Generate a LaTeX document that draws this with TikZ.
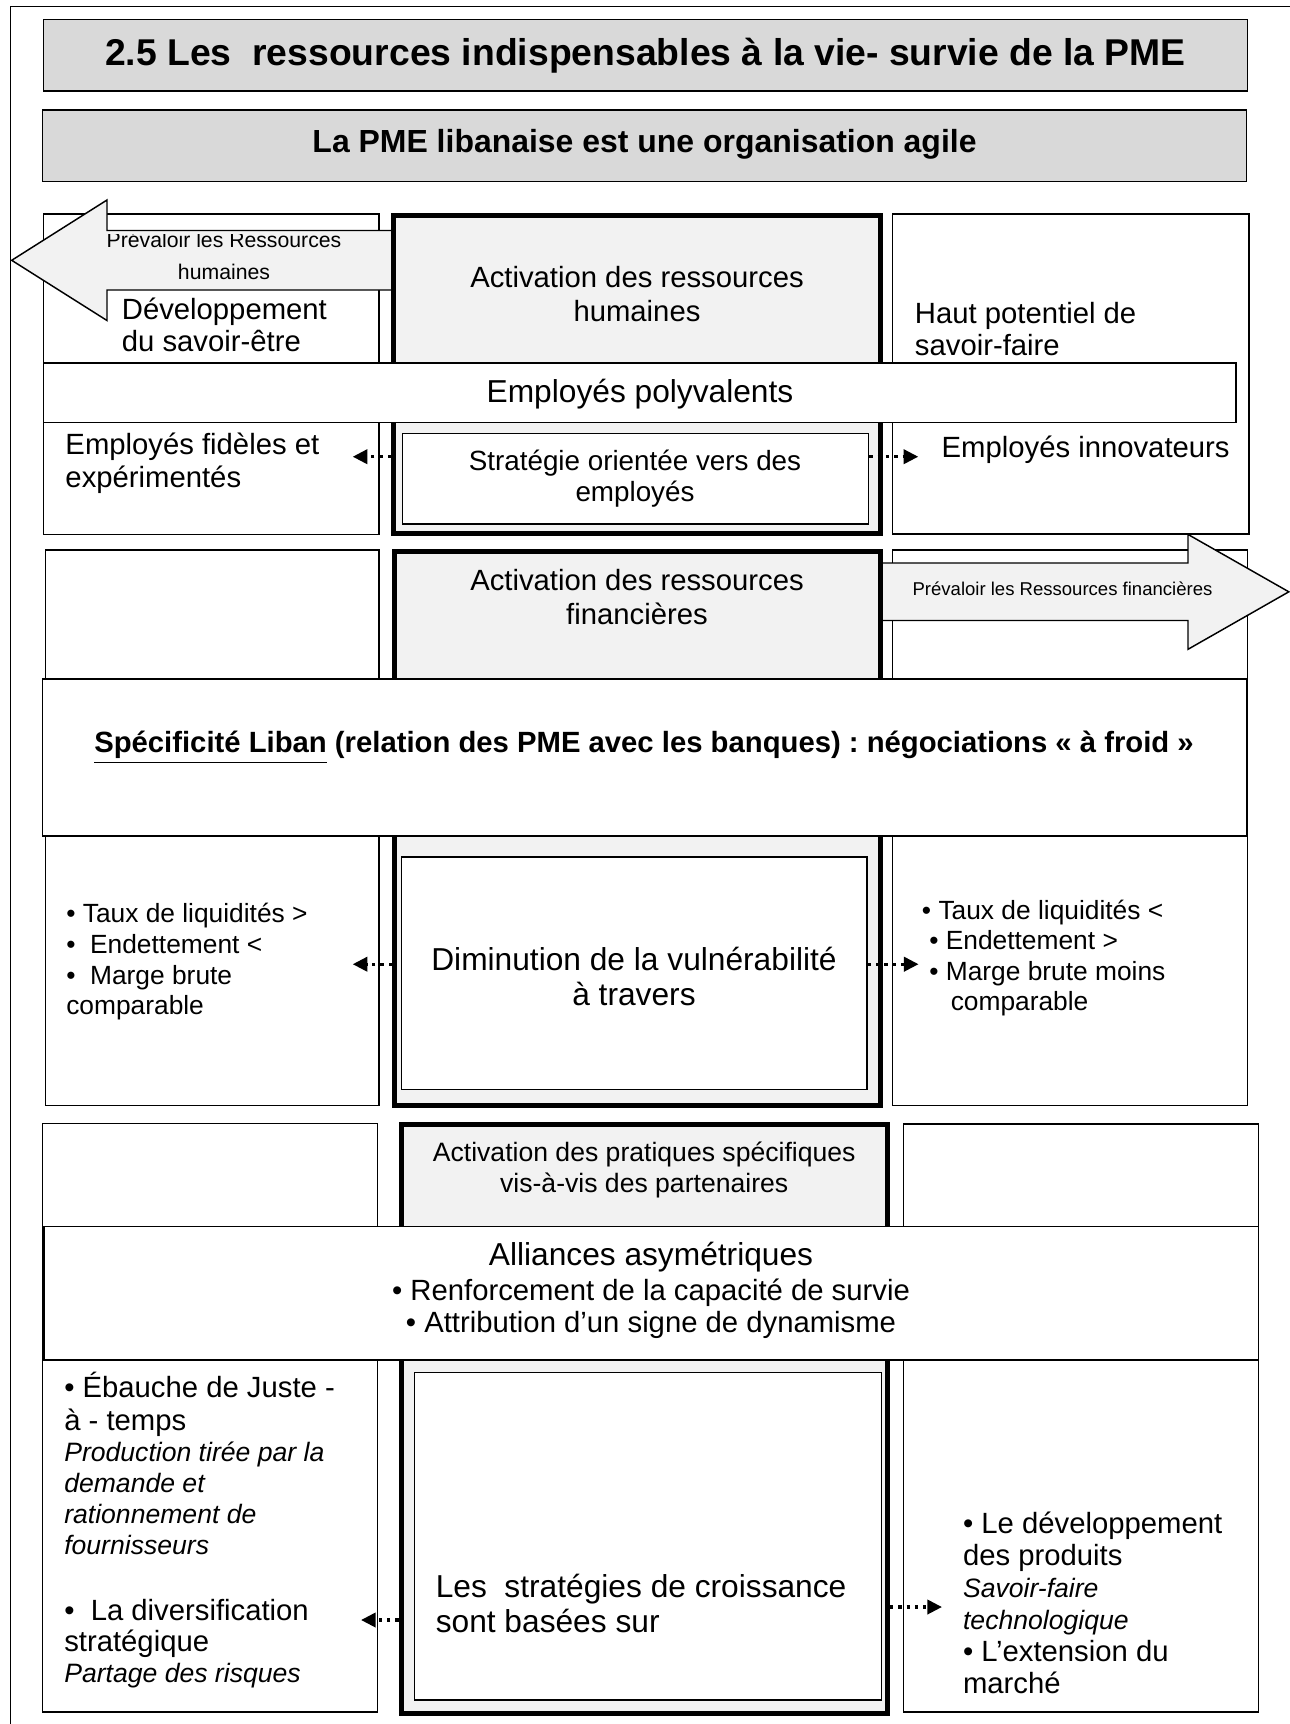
\documentclass[tikz,border=0pt]{standalone}
\usepackage{fontspec}
\setmainfont{Liberation Sans}
\usetikzlibrary{arrows.meta,fit}
\frenchspacing
\newcommand{\setsz}[2]{\fontsize{#1}{#2}\selectfont}
\newcommand{\smallit}[1]{{\itshape\setsz{10.9}{12.7}#1}}
\tikzset{frame/.style={draw, line width=0.6pt, inner sep=0pt},
pale/.style={frame, fill=white},
grey/.style={frame, fill=black!15},
core/.style={draw, line width=2.05pt, fill=black!5, inner sep=0pt},
inner/.style={frame, fill=white, line width=0.7pt},
shaft/.style={draw, line width=0.6pt, fill=black!5},
dots/.style={line width=1.35pt, dash pattern=on 1.35pt off 2.05pt, -{Triangle[length=6pt,width=5.8pt]}},
txt/.style={inner sep=0pt, align=left, anchor=base west},
ctxt/.style={inner sep=0pt, align=center, anchor=base}}

\begin{document}
\begin{tikzpicture}[x=0.41pt,y=-0.41pt]
        \useasboundingbox (0,0) rectangle (1290,1724);
        \clip (0,0) rectangle (1290,1724);
        \node[frame, fit={(10.5,6.5) (1300,1740)}] (page) {};
        
        \node[grey, fit={(43.5,19.5) (1247.5,91)}] (title) {};
        \node[ctxt, font=\bfseries\setsz{15.3}{18}] (titletxt) at (645.5,65.4) {2.5 Les\ \ ressources indispensables à la vie- survie de la PME};
        \node[grey, fit={(42.5,110) (1246.5,181.5)}] (sub) {};
        \node[ctxt, font=\bfseries\setsz{13.1}{15}] (subtxt) at (644.5,152.8) {La PME libanaise est une organisation agile};
        
        \node[pale, fit={(43.5,214) (379,534.5)}] (hl) {};
        \node[pale, fit={(892.5,214) (1249,534)}] (hr) {};
        \draw[shaft] (11.7,260.3) -- (107,200) -- (107,230.5) -- (393.5,230.5) -- (393.5,290) -- (107,290) -- (107,320.5) -- cycle;
        \begin{scope}
            \clip (11.7,234.5) rectangle (393.5,320.5);
            \node[ctxt, font=\setsz{8.7}{13.1}] (hrtag) at (224,279.3) {Prévaloir les Ressources\\humaines};
        \end{scope}
        \node[core, fit={(393.5,215) (880.8,533)}] (hc) {};
        \node[ctxt, font=\setsz{12}{13.9}] (hctxt) at (637,321.4) {Activation des ressources\\humaines};
        \node[txt, font=\setsz{12}{13.1}] (hltxt) at (121.4,351.6) {Développement\\du savoir-être};
        \node[txt, font=\setsz{12}{13.1}] (hrtxt) at (914.5,355) {Haut potentiel de\\savoir-faire};
        \node[pale, fit={(43.5,363) (1236,422.5)}] (poly) {};
        \node[ctxt, font=\setsz{13}{15}] (polytxt) at (640,402.8) {Employés polyvalents};
        \node[inner, fit={(402.5,433.5) (868.5,524)}] (strat) {};
        \node[ctxt, font=\setsz{11.4}{12.7}] (strattxt) at (635,501) {Stratégie orientée vers des\\employés};
        \node[txt, font=\setsz{12}{13.65}] (fid) at (65,487.3) {Employés fidèles et\\expérimentés};
        \node[txt, font=\setsz{12}{13.65}] (inno) at (941.2,457.7) {Employés innovateurs};
        \coordinate (fidtip) at (352.7,456.7);
        \coordinate (innotip) at (918.3,456.7);
        \draw[dots] (hc.west |- fidtip) -- (fidtip);
        \draw[dots] (strat.east |- innotip) -- (innotip);
        
        \node[pale, fit={(45.5,550) (379,1105.5)}] (fl) {};
        \node[pale, fit={(892.5,550) (1247.5,1105.5)}] (fr) {};
        \draw[shaft] (880.8,563) -- (1188,563) -- (1188,534.4) -- (1288.8,591.8) -- (1188,649.3) -- (1188,620.5) -- (880.8,620.5) -- cycle;
        \node[ctxt, font=\setsz{7.6}{9}] (frtag) at (1062.5,595) {Prévaloir les Ressources financières};
        \node[core, fit={(394.5,551) (880.7,1105.5)}] (fc) {};
        \node[ctxt, font=\setsz{12}{14.1}] (fctxt) at (637,624.4) {Activation des ressources\\financières};
        \node[pale, fit={(42.5,679) (1246.5,836)}] (liban) {};
        \node[ctxt, font=\bfseries\setsz{12}{14}] (libantxt) at (644,752.6) {\underline{Spécificité Liban} (relation des PME avec les banques) : négociations « à froid »};
        \node[inner, fit={(401.5,857) (867,1089.5)}] (vuln) {};
        \node[ctxt, font=\setsz{13}{14.35}] (vulntxt) at (634,1005) {Diminution de la vulnérabilité\\à travers};
        \node[txt, font=\setsz{10.8}{12.55}] (lowtxt) at (65.8,1014.7) {• Taux de liquidités >\\•\ \ Endettement <\\•\ \ Marge brute\\comparable};
        \node[txt, font=\setsz{10.8}{12.55}] (hightxt) at (921.5,1010.9) {• Taux de liquidités <\\\hspace*{3pt}• Endettement >\\\hspace*{3pt}• Marge brute moins\\\hspace*{11.8pt}comparable};
        \coordinate (lowtip) at (352.7,964.2);
        \coordinate (hightip) at (918.6,964.2);
        \draw[dots] (fc.west |- lowtip) -- (lowtip);
        \draw[dots] (vuln.east |- hightip) -- (hightip);
        
        \node[pale, fit={(42.5,1123.5) (377.5,1712)}] (pl) {};
        \node[pale, fit={(903.5,1124) (1258.5,1712)}] (pr) {};
        \node[core, fit={(401,1124.5) (887.5,1713)}] (pc) {};
        \node[ctxt, font=\setsz{10.9}{12.55}] (pctxt) at (644.2,1192.3) {Activation des pratiques spécifiques\\vis-à-vis des partenaires};
        \node[pale, fit={(44,1226.5) (1258.5,1360)}] (ally) {};
        \node[ctxt, font=\setsz{12}{13.05}] (allytxt) at (651,1332.8) {{\setsz{13}{13.05}Alliances asymétriques}\\[1.6pt]• Renforcement de la capacité de survie\\• Attribution d’un signe de dynamisme};
        \node[inner, fit={(414.5,1372.5) (881.5,1700)}] (grow) {};
        \node[txt, font=\setsz{13}{14.35}] (growtxt) at (435.3,1632.5) {Les\ \ stratégies de croissance\\sont basées sur};
        \node[txt, font=\setsz{12}{12.71}] (pltxt) at (63.8,1682) {• Ébauche de Juste -\\[0.6pt]à - temps\\\smallit{Production tirée par la}\\\smallit{demande et}\\\smallit{rationnement de}\\\smallit{fournisseurs}\\[14.2pt]•\ \ La diversification\\stratégique\\\smallit{Partage des risques}};
        \node[txt, font=\setsz{12}{13.1}] (prtxt) at (962.6,1693) {• Le développement\\des produits\\\smallit{Savoir-faire}\\\smallit{technologique}\\• L’extension du\\marché};
        \coordinate (pltip) at (361,1620);
        \coordinate (prtip) at (942,1607);
        \draw[dots] (pc.west |- pltip) -- (pltip);
        \draw[dots] (pc.east |- prtip) -- (prtip);
\end{tikzpicture}
\end{document}
